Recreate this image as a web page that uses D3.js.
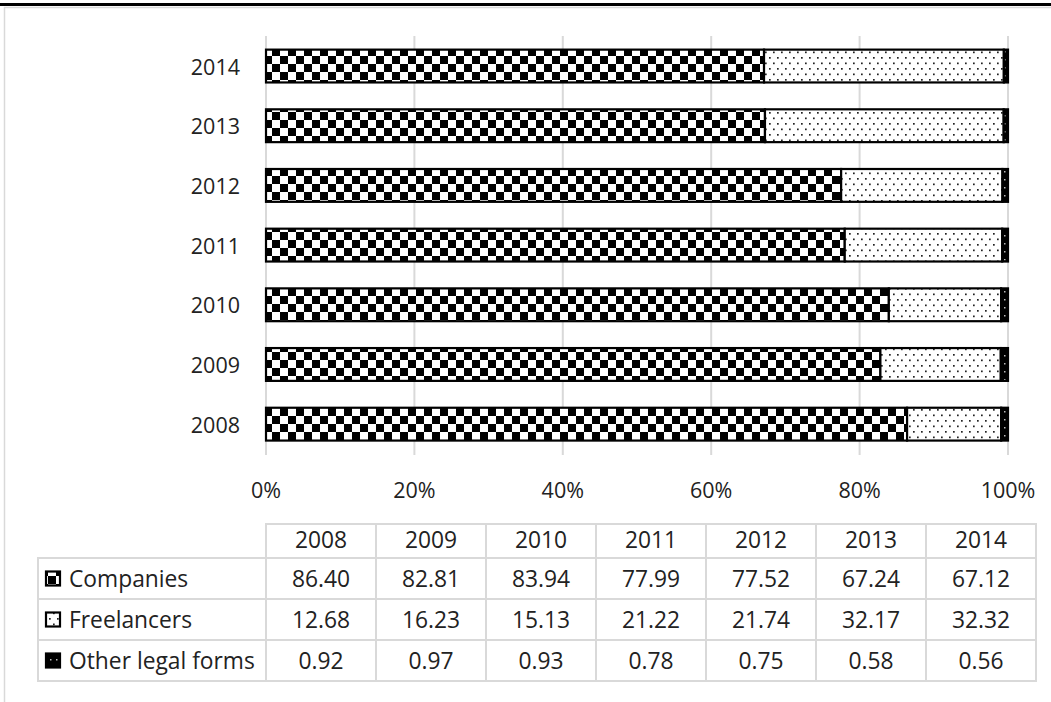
<!DOCTYPE html>
<html>
<head>
<meta charset="utf-8">
<script src="https://cdn.jsdelivr.net/npm/d3@7"></script>
<style>
  html, body { margin: 0; padding: 0; background: #fff; }
  svg { display: block; font-family: "Open Sans", Lato, sans-serif; }
</style>
</head>
<body>
<svg id="chart" width="1051" height="702"></svg>
<script>
// Share of businesses by legal form, 2008-2014 (%)
const years = ["2008", "2009", "2010", "2011", "2012", "2013", "2014"];
const seriesNames = ["Companies", "Freelancers", "Other legal forms"];
const companies = [86.40, 82.81, 83.94, 77.99, 77.52, 67.24, 67.12];
const freelancers = [12.68, 16.23, 15.13, 21.22, 21.74, 32.17, 32.32];
const otherForms = [0.92, 0.97, 0.93, 0.78, 0.75, 0.58, 0.56];
const tickValues = [0, 0.2, 0.4, 0.6, 0.8, 1];

const seriesValues = [companies, freelancers, otherForms];
const rows = years.map((y, i) => {
  const r = { year: y };
  seriesNames.forEach((s, k) => { r[s] = seriesValues[k][i]; });
  return r;
});

const FS = 21.5;     // axis label size
const FT = 22.8;     // table text size
const TXT = "#222";

const svg = d3.select("#chart");
const defs = svg.append("defs");

// Checkerboard fill
const pCheck = defs.append("pattern").attr("id", "pat-companies")
  .attr("patternUnits", "userSpaceOnUse").attr("width", 16).attr("height", 16);
pCheck.append("rect").attr("width", 16).attr("height", 16).attr("fill", "#fff");
pCheck.append("rect").attr("x", 0).attr("y", 0).attr("width", 8).attr("height", 8).attr("fill", "#000");
pCheck.append("rect").attr("x", 8).attr("y", 8).attr("width", 8).attr("height", 8).attr("fill", "#000");

// Sparse dot fill
const pDots = defs.append("pattern").attr("id", "pat-freelancers")
  .attr("patternUnits", "userSpaceOnUse").attr("width", 8).attr("height", 11);
pDots.append("rect").attr("width", 8).attr("height", 11).attr("fill", "#fff");
pDots.append("rect").attr("x", 1).attr("y", 2).attr("width", 1.7).attr("height", 1.7).attr("fill", "#222");
pDots.append("rect").attr("x", 5).attr("y", 7.5).attr("width", 1.7).attr("height", 1.7).attr("fill", "#222");

// Dark fill with light specks
const pDark = defs.append("pattern").attr("id", "pat-other")
  .attr("patternUnits", "userSpaceOnUse").attr("width", 6).attr("height", 8);
pDark.append("rect").attr("width", 6).attr("height", 8).attr("fill", "#000");
pDark.append("rect").attr("x", 2).attr("y", 3).attr("width", 1.5).attr("height", 1.5).attr("fill", "#bbb");

const fills = {
  "Companies": "url(#pat-companies)",
  "Freelancers": "url(#pat-freelancers)",
  "Other legal forms": "url(#pat-other)"
};

// Frame lines
svg.append("rect").attr("x", 0).attr("y", 3).attr("width", 1051).attr("height", 3).attr("fill", "#000");
svg.append("line").attr("x1", 4.5).attr("x2", 4.5).attr("y1", 7).attr("y2", 702)
  .attr("stroke", "#d9d9d9").attr("stroke-width", 1.5);
svg.append("line").attr("x1", 4).attr("x2", 1051).attr("y1", 7.5).attr("y2", 7.5)
  .attr("stroke", "#d9d9d9").attr("stroke-width", 1.5);

// Scales
const x = d3.scaleLinear().domain([0, 1]).range([266, 1008]);
const y = d3.scaleBand().domain(years.slice().reverse()).range([36.2, 454])
  .paddingInner(0.45).paddingOuter(0.225);

// Gridlines
svg.append("g").selectAll("line").data(tickValues).join("line")
  .attr("x1", d => x(d)).attr("x2", d => x(d))
  .attr("y1", 36).attr("y2", 455)
  .attr("stroke", "#d9d9d9").attr("stroke-width", 2);

// Stacked bars
const stack = d3.stack().keys(seriesNames).offset(d3.stackOffsetExpand);
const layers = stack(rows);
svg.append("g").selectAll("g").data(layers).join("g")
  .attr("fill", d => fills[d.key])
  .selectAll("rect").data(d => d).join("rect")
  .attr("x", d => x(d[0]))
  .attr("width", d => x(d[1]) - x(d[0]))
  .attr("y", d => y(d.data.year))
  .attr("height", y.bandwidth())
  .attr("stroke", "#000").attr("stroke-width", 2.2);

// Category labels
svg.append("g").selectAll("text").data(years).join("text")
  .attr("x", 240).attr("y", d => y(d) + y.bandwidth() / 2)
  .attr("text-anchor", "end").attr("dominant-baseline", "central")
  .attr("font-size", FS).attr("fill", TXT).text(d => d);

// Value axis labels
const fmt = d3.format(".0%");
svg.append("g").selectAll("text").data(tickValues).join("text")
  .attr("x", d => x(d)).attr("y", 489)
  .attr("text-anchor", "middle").attr("dominant-baseline", "central")
  .attr("font-size", FS).attr("fill", TXT).text(d => fmt(d));

// Data table
const col = d3.scaleBand().domain(years).range([266, 1036]);
const headerH = 34, bodyH = (681 - 524 - headerH) / 3;
const rowTop = k => k === "header" ? 524 : 524 + headerH + seriesNames.indexOf(k) * bodyH;
const rowH = k => k === "header" ? headerH : bodyH;
const gridColor = "#d9d9d9";
const tbl = svg.append("g");

// Header cells
tbl.selectAll("rect.h").data(years).join("rect").attr("class", "h")
  .attr("x", d => col(d)).attr("y", rowTop("header"))
  .attr("width", col.bandwidth()).attr("height", headerH)
  .attr("fill", "none").attr("stroke", gridColor).attr("stroke-width", 2);
tbl.selectAll("text.h").data(years).join("text").attr("class", "h")
  .attr("x", d => col(d) + col.bandwidth() / 2).attr("y", rowTop("header") + headerH / 2 - 2)
  .attr("text-anchor", "middle").attr("dominant-baseline", "central")
  .attr("font-size", FT).attr("fill", TXT).text(d => d);

// Body rows
seriesNames.forEach((s, k) => {
  const top = rowTop(s), h = rowH(s);
  tbl.append("rect").attr("x", 38).attr("y", top).attr("width", 266 - 38).attr("height", h)
    .attr("fill", "none").attr("stroke", gridColor).attr("stroke-width", 2);
  tbl.append("rect").attr("x", 46).attr("y", top + h / 2 - 7).attr("width", 14).attr("height", 14)
    .attr("fill", fills[s]).attr("stroke", "#000").attr("stroke-width", 2.2);
  tbl.append("text").attr("x", 69).attr("y", top + h / 2)
    .attr("dominant-baseline", "central").attr("font-size", FT).attr("fill", TXT).text(s);
  tbl.selectAll("rect.c" + k).data(seriesValues[k]).join("rect").attr("class", "c" + k)
    .attr("x", (d, i) => col(years[i])).attr("y", top)
    .attr("width", col.bandwidth()).attr("height", h)
    .attr("fill", "none").attr("stroke", gridColor).attr("stroke-width", 2);
  tbl.selectAll("text.c" + k).data(seriesValues[k]).join("text").attr("class", "c" + k)
    .attr("x", (d, i) => col(years[i]) + col.bandwidth() / 2).attr("y", top + h / 2)
    .attr("text-anchor", "middle").attr("dominant-baseline", "central")
    .attr("font-size", FT).attr("fill", TXT).text(d => d.toFixed(2));
});
</script>
</body>
</html>
